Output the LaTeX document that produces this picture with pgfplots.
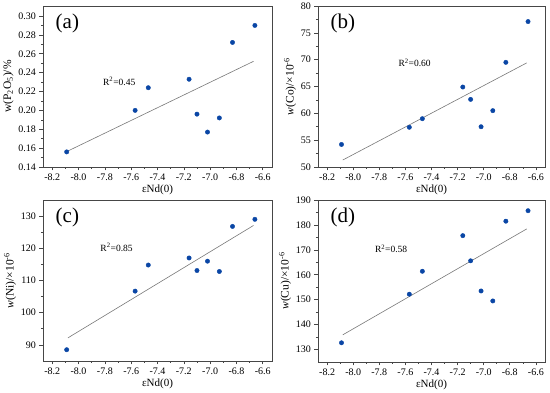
\documentclass[border=0pt]{standalone}
\usepackage{fontspec}
\setmainfont{Liberation Serif}
\usepackage{pgfplots}
\pgfplotsset{compat=1.18}
\definecolor{ptblue}{RGB}{10,70,165}
\definecolor{fitgray}{RGB}{120,120,120}
\definecolor{axgray}{RGB}{70,70,70}
\pgfplotsset{
  panel/.style={
    scale only axis,
    width=228pt, height=161pt,
    anchor=south west,
    xmin=-8.27, xmax=-6.53,
    xtick={-8.2,-8.0,...,-6.6},
    minor x tick num=1, minor y tick num=1,
    tick pos=left, tick align=outside,
    major tick length=3.5pt, minor tick length=2pt,
    axis line style={axgray, line width=0.8pt},
    every tick/.style={axgray, line width=0.6pt},
    /pgf/number format/assume math mode=true,
    x tick label style={/pgf/number format/.cd, fixed, fixed zerofill, precision=1},
    tick label style={font=\fontsize{10}{12}\selectfont},
    xlabel style={font=\fontsize{11}{13}\selectfont, yshift=3pt},
    ylabel style={font=\fontsize{11.5}{13}\selectfont, yshift=-2pt},
    xlabel={εNd(0)},
  },
  pts/.style={only marks, mark=*, mark size=2.2pt, mark options={fill=ptblue, draw=ptblue}},
  fit/.style={no marks, fitgray, line width=0.6pt},
}
\begin{document}
\begin{tikzpicture}[x=1pt,y=1pt]
% (a)
\begin{axis}[panel, at={(43pt,226pt)}, width=229pt,
  ymin=0.14, ymax=0.3106, ytick={0.14,0.16,...,0.301},
  y tick label style={/pgf/number format/.cd, fixed, fixed zerofill, precision=2},
  ylabel={w(P\textsubscript{2}O\textsubscript{5})/\%}]
\addplot[pts] coordinates {(-8.09,0.156) (-7.57,0.200) (-7.47,0.224) (-7.16,0.233) (-7.10,0.196) (-7.02,0.177) (-6.93,0.192) (-6.83,0.272) (-6.66,0.290)};
\addplot[fit] coordinates {(-8.08,0.157) (-6.67,0.252)};
\node[anchor=north west, font=\fontsize{21}{23}\selectfont] at (rel axis cs:0.04,0.97) {(a)};
\node[anchor=west, font=\fontsize{9.5}{11}\selectfont] at (axis cs:-7.84,0.231) {R\textsuperscript{2}=0.45};
\end{axis}
% (b)
\begin{axis}[panel, at={(318pt,226pt)}, width=227pt,
  ymin=50, ymax=80, ytick={50,55,...,80},
  ylabel={\textit{w}(Co)/×10\textsuperscript{-6}}]
\addplot[pts] coordinates {(-8.09,54.2) (-7.57,57.4) (-7.47,59.0) (-7.16,64.9) (-7.10,62.6) (-7.02,57.5) (-6.93,60.5) (-6.83,69.5) (-6.66,77.1)};
\addplot[fit] coordinates {(-8.08,51.3) (-6.67,69.4)};
\node[anchor=north west, font=\fontsize{21}{23}\selectfont] at (rel axis cs:0.04,0.97) {(b)};
\node[anchor=west, font=\fontsize{9.5}{11}\selectfont] at (axis cs:-7.68,69.4) {R\textsuperscript{2}=0.60};
\end{axis}
% (c)
\begin{axis}[panel, at={(43pt,32pt)}, width=229pt,
  ymin=85, ymax=135, ytick={90,100,...,130},
  ylabel={\textit{w}(Ni)/×10\textsuperscript{-6}}]
\addplot[pts] coordinates {(-8.09,88.5) (-7.57,106.7) (-7.47,114.8) (-7.16,117.0) (-7.10,113.1) (-7.02,116.0) (-6.93,112.8) (-6.83,126.8) (-6.66,129.0)};
\addplot[fit] coordinates {(-8.08,92.2) (-6.67,127.1)};
\node[anchor=north west, font=\fontsize{21}{23}\selectfont] at (rel axis cs:0.04,0.97) {(c)};
\node[anchor=west, font=\fontsize{9.5}{11}\selectfont] at (axis cs:-7.86,120.4) {R\textsuperscript{2}=0.85};
\end{axis}
% (d)
\begin{axis}[panel, at={(318pt,31pt)}, width=227pt, height=162pt,
  ymin=125, ymax=190, ytick={130,140,...,190},
  ylabel={\textit{w}(Cu)/×10\textsuperscript{-6}}]
\addplot[pts] coordinates {(-8.09,132.7) (-7.57,152.2) (-7.47,161.4) (-7.16,175.7) (-7.10,165.6) (-7.02,153.5) (-6.93,149.5) (-6.83,181.5) (-6.66,185.7)};
\addplot[fit] coordinates {(-8.08,135.9) (-6.67,178.4)};
\node[anchor=north west, font=\fontsize{21}{23}\selectfont] at (rel axis cs:0.04,0.97) {(d)};
\node[anchor=west, font=\fontsize{9.5}{11}\selectfont] at (axis cs:-7.86,170.4) {R\textsuperscript{2}=0.58};
\end{axis}
\pgfresetboundingbox
\path (0,0) rectangle (550,393);
\end{tikzpicture}
\end{document}
